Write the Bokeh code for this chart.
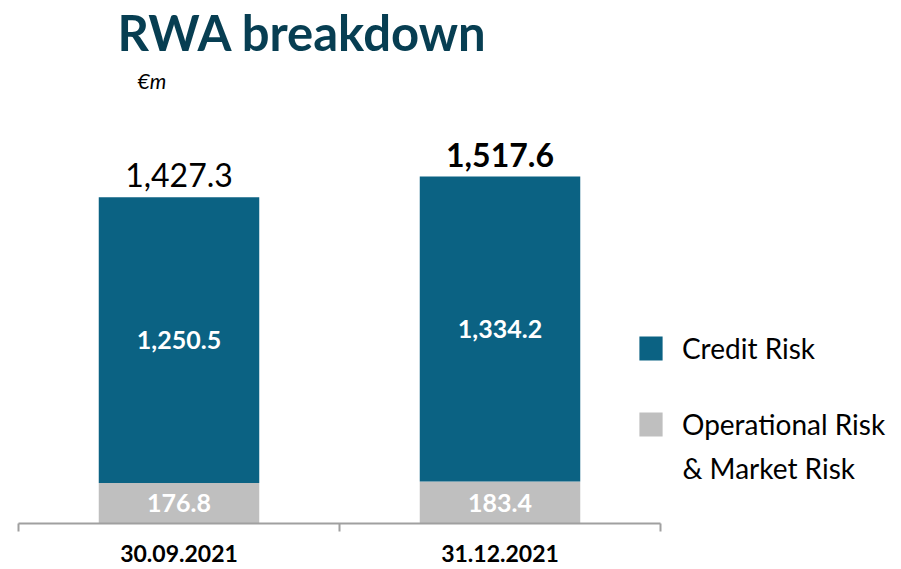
from bokeh.plotting import figure
from bokeh.models import (ColumnDataSource, Label, Legend, LegendItem, FixedTicker,
                          Range1d)
from bokeh.core.properties import value
from bokeh.embed import file_html
from bokeh.resources import INLINE

# ---- data ----
dates = ["30.09.2021", "31.12.2021"]
credit_risk = [1250.5, 1334.2]
ops_market_risk = [176.8, 183.4]
totals = [1427.3, 1517.6]
total_styles = ["normal", "bold"]

TEAL = "#0B6283"
GREY = "#BFBFBF"
TITLE_C = "#073E52"
AXIS_C = "#A0A0A0"
FONT = "Lato"

xs = [i + 0.5 for i in range(len(dates))]
src = ColumnDataSource(dict(
    x=xs,
    ops=ops_market_risk,
    credit=credit_risk,
    total=totals,
    total_lbl=[f"{v:,.1f}" for v in totals],
    credit_lbl=[f"{v:,.1f}" for v in credit_risk],
    ops_lbl=[f"{v:,.1f}" for v in ops_market_risk],
    credit_mid=[o + c / 2 for o, c in zip(ops_market_risk, credit_risk)],
    ops_mid=[o / 2 for o in ops_market_risk],
    style=total_styles,
))

W, H = 901, 569
BOTTOM = 46
px_per_unit = 321.0
x_start = -18 / px_per_unit
frame_h = H - BOTTOM
y_end = max(totals) * frame_h / 347.0

p = figure(width=W, height=H, output_backend="svg", toolbar_location=None,
           x_range=Range1d(x_start, x_start + W / px_per_unit),
           y_range=Range1d(0, y_end), y_axis_location=None,
           min_border=0, min_border_left=0, min_border_right=0, min_border_top=0,
           min_border_bottom=BOTTOM)
p.outline_line_color = None
p.xgrid.visible = False
p.ygrid.visible = False
p.background_fill_color = "white"
p.border_fill_color = "white"

r_ops = p.vbar(x="x", bottom=0, top="ops", width=0.5, source=src,
               fill_color=GREY, line_color=None)
r_credit = p.vbar(x="x", bottom="ops", top="total", width=0.5, source=src,
                  fill_color=TEAL, line_color=None)

p.text(x="x", y="credit_mid", text="credit_lbl", source=src, text_color="white",
       text_font=value(FONT), text_font_style="bold", text_font_size="25px",
       text_align="center", text_baseline="middle")
p.text(x="x", y="ops_mid", text="ops_lbl", source=src, text_color="white",
       text_font=value(FONT), text_font_style="bold", text_font_size="25px",
       text_align="center", text_baseline="middle")
p.text(x="x", y="total", text="total_lbl", source=src, text_color="black",
       text_font=value(FONT), text_font_style="style", text_font_size="32px",
       text_align="center", text_baseline="middle", y_offset=-22)

# x axis
ax = p.xaxis[0]
ax.ticker = FixedTicker(ticks=xs, minor_ticks=list(range(len(dates) + 1)))
ax.major_label_overrides = {x: d for x, d in zip(xs, dates)}
ax.bounds = (0, len(dates))
ax.axis_line_color = AXIS_C
ax.axis_line_width = 2
ax.major_tick_line_color = None
ax.major_tick_out = 0
ax.major_tick_in = 0
ax.minor_tick_line_color = AXIS_C
ax.minor_tick_line_width = 2
ax.minor_tick_out = 8
ax.minor_tick_in = 0
ax.major_label_text_font = FONT
ax.major_label_text_font_style = "bold"
ax.major_label_text_font_size = "23px"
ax.major_label_text_color = "black"
ax.major_label_standoff = 13

# titles
p.add_layout(Label(x=117, y=frame_h - 31.5, x_units="screen", y_units="screen",
                   text="RWA breakdown", text_font=FONT, text_font_style="bold",
                   text_font_size="49px", text_color=TITLE_C,
                   text_baseline="middle"))
p.add_layout(Label(x=137, y=frame_h - 79.5, x_units="screen", y_units="screen",
                   text="€m", text_font=FONT, text_font_style="italic",
                   text_font_size="21px", text_color="black",
                   text_baseline="middle"))

legend = Legend(items=[LegendItem(label="Credit Risk", renderers=[r_credit]),
                       LegendItem(label="Operational Risk", renderers=[r_ops])],
                location=(636, frame_h - 441), orientation="vertical",
                label_text_font=FONT, label_text_font_size="28px",
                label_text_color="black", label_height=30,
                glyph_width=29, glyph_height=30, label_standoff=17,
                spacing=42, padding=0, margin=0,
                border_line_color=None, background_fill_alpha=0)
p.add_layout(legend, "center")
# second line of the operational-risk legend label
p.add_layout(Label(x=682, y=frame_h - 467, x_units="screen", y_units="screen",
                   text="& Market Risk", text_font=FONT,
                   text_font_size="28px", text_color="black",
                   text_baseline="middle"))

open("out.html", "w").write(file_html(p, INLINE))
